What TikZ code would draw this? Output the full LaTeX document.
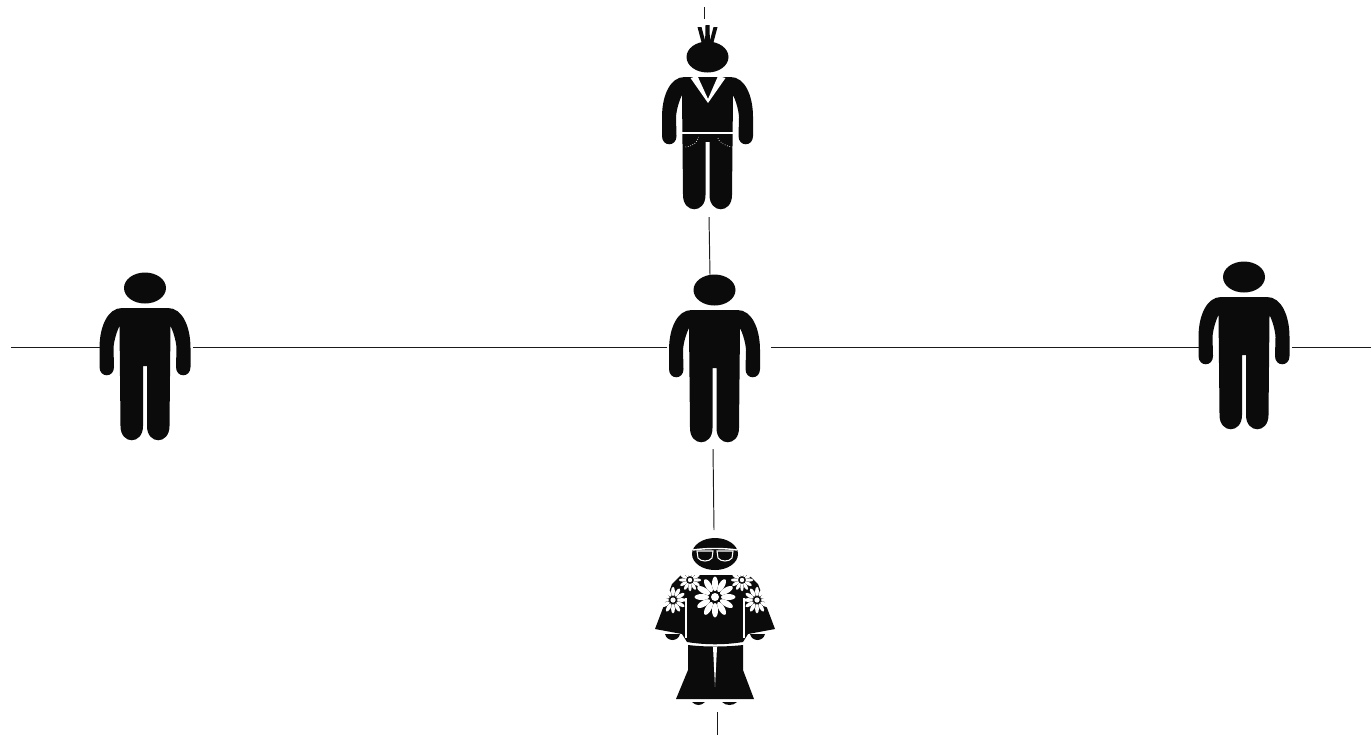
\documentclass[tikz,border=0pt]{standalone}
\usepackage{xcolor}
\usetikzlibrary{calc}
\definecolor{figureColor}{HTML}{0B0B0B}
\definecolor{lineColor}{HTML}{1A1A1A}
\newcommand{\daisy}[3]{%
    \foreach \a in {0,30,...,330} {
        \fill[white, shift={(#1,#2)}, rotate=\a] (#3*0.66,0) ellipse ({#3*0.36} and {#3*0.15});
    }
    \fill[white] (#1,#2) circle ({#3*0.2});
}
\tikzset{
    link/.style={draw=lineColor, line width=0.55pt},
    person/.pic={
        \fill[figureColor] (0,0) ellipse (21 and 15.5);
        \fill[figureColor] (-23,20) .. controls (-37,20) and (-45.5,38) .. (-45.5,60) -- (-45.5,79)
            .. controls (-45.5,90) and (-31,90) .. (-31,79) -- (-31.5,60)
            .. controls (-31,52) and (-28,43) .. (-25.5,38) -- (-24.5,138)
            .. controls (-24.5,157) and (-2,157) .. (-2,138) -- (-2,78) -- (2,78) -- (2,138)
            .. controls (2,157) and (24.5,157) .. (24.5,138) -- (25.5,38)
            .. controls (28,43) and (31,52) .. (31.5,60) -- (31,79)
            .. controls (31,90) and (45.5,90) .. (45.5,79) -- (45.5,60)
            .. controls (45.5,38) and (37,20) .. (23,20) -- cycle;
    },
    punk/.pic={
        \pic {person};
        \fill[figureColor] (-3,70) rectangle (3,85);
        \fill[figureColor] (-10,-30) -- (-6,-30) -- (-1,-11) -- (-5,-11) -- cycle;
        \fill[figureColor] (-2,-32) -- (2,-32) -- (2.5,-11) -- (-2.5,-11) -- cycle;
        \fill[figureColor] (10,-30) -- (6,-30) -- (1,-11) -- (5,-11) -- cycle;
        \fill[white] (-17,21) -- (-10,19) -- (0.5,42) -- (10.5,19) -- (18,21) -- (0.5,46) -- cycle;
        \draw[white, line width=0.6pt] (-26,76) -- (26,76);
        \draw[white, line width=0.4pt, densely dotted] (-22,90) .. controls (-14,89) and (-10,85) .. (-9,80);
        \draw[white, line width=0.4pt, densely dotted] (25,90) .. controls (17,89) and (11,85) .. (10,80);
    },
    hippie/.pic={
        \fill[figureColor] (0,0) ellipse (23 and 16);
        \draw[white, line width=0.8pt] (-22,-4) .. controls (-10,-6) and (10,-6) .. (22,-4);
        \draw[white, line width=0.6pt, fill=figureColor] (-18,-3) -- (-2,-3) -- (-3,4) .. controls (-6,8) and (-14,8) .. (-17,4) -- cycle;
        \draw[white, line width=0.6pt, fill=figureColor] (18,-3) -- (2,-3) -- (3,4) .. controls (6,8) and (14,8) .. (17,4) -- cycle;
        \fill[figureColor] (-34,21) -- (34,21) -- (43,30) -- (60,75) -- (33,80) -- (28,88)
            .. controls (10,91) and (-10,91) .. (-28,88) -- (-33,80) -- (-60,75) -- (-43,30) -- cycle;
        \draw[white, line width=0.9pt] (-29,44) -- (-29,84);
        \draw[white, line width=0.9pt] (29,44) -- (29,84);
        \fill[figureColor] (-50,80) .. controls (-48,88) and (-37,88) .. (-35,80) -- cycle;
        \fill[figureColor] (50,80) .. controls (48,88) and (37,88) .. (35,80) -- cycle;
        \fill[figureColor] (-27,91) .. controls (-10,93) and (10,93) .. (28,91) -- (28,116) -- (39,145) -- (-39,145) -- (-27,116) -- cycle;
        \fill[white] (-2,93) -- (2,93) -- (0,133) -- cycle;
        \fill[figureColor] (-23,148) .. controls (-19,152) and (-14,152) .. (-10,148) -- cycle;
        \fill[figureColor] (7,148) .. controls (11,152) and (18,152) .. (22,148) -- cycle;
        \daisy{0}{43}{20}
        \daisy{-25}{26}{11}
        \daisy{27}{26}{11}
        \daisy{-42}{46}{13}
        \daisy{42}{46}{13}
    }
}
\begin{document}
\begin{tikzpicture}[x=0.02cm, y=-0.02cm]
    \useasboundingbox (0,0) rectangle (1371,735);
    \pic (lone) at (145,288) {person};
    \pic (middle) at (714.5,290) {person};
    \pic (other) at (1244,277) {person};
    \pic (rebel) at (707.5,57) {punk};
    \pic (flower) at (715,554) {hippie};
    \coordinate (rowStart) at (11,347);
    \coordinate (loneWest) at (100,347);
    \coordinate (loneEast) at (193,347);
    \coordinate (middleWest) at (667,347);
    \coordinate (middleEast) at (771,347);
    \coordinate (otherWest) at (1199,347);
    \coordinate (otherEast) at (1292,347);
    \coordinate (rowEnd) at (1371,347);
    \coordinate (columnStart) at (704,7);
    \coordinate (rebelNorth) at (704,19);
    \coordinate (rebelSouth) at (709,217);
    \coordinate (middleNorth) at (710,275);
    \coordinate (middleSouth) at (713,449);
    \coordinate (flowerNorth) at (714,530);
    \coordinate (flowerSouth) at (717,712);
    \coordinate (columnEnd) at (717,735);
    \draw[link] (rowStart) -- (loneWest);
    \draw[link] (loneEast) -- (middleWest);
    \draw[link] (middleEast) -- (otherWest);
    \draw[link] (otherEast) -- (rowEnd);
    \draw[link] (columnStart) -- (rebelNorth);
    \draw[link] (rebelSouth) -- (middleNorth);
    \draw[link] (middleSouth) -- (flowerNorth);
    \draw[link] (flowerSouth) -- (columnEnd);
\end{tikzpicture}
\end{document}
